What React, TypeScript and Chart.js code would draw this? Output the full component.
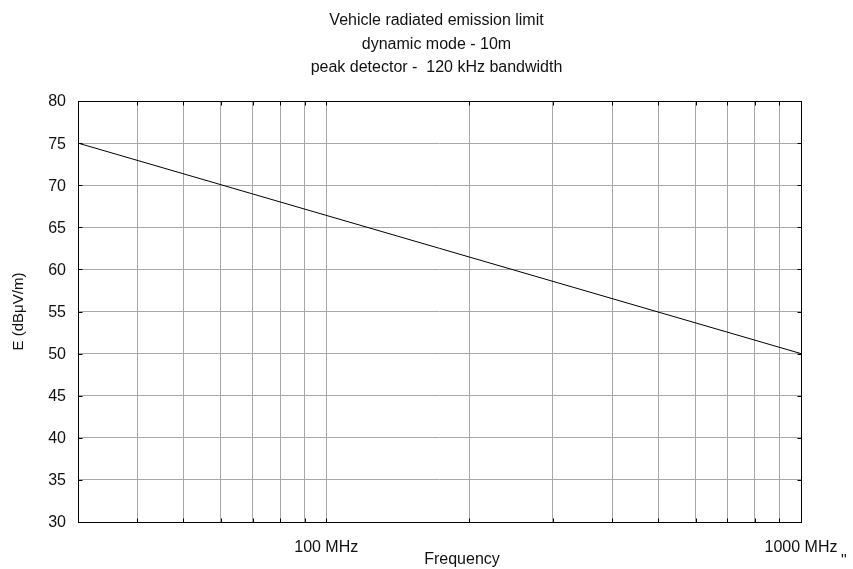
import React, { useEffect, useRef } from 'react';
import { Chart, registerables } from 'chart.js';

Chart.register(...registerables);

// ---- data ----
const frequencies = [30, 1000]; // MHz
const limits = [75, 50]; // dBµV/m
const gridFrequencies = [30, 40, 50, 60, 70, 80, 90, 100, 200, 300, 400, 500, 600, 700, 800, 900, 1000];
const labeledFrequencies = [100, 1000];
const xTickLabels = ['100 MHz', '1000 MHz'];
const yTicks = [30, 35, 40, 45, 50, 55, 60, 65, 70, 75, 80];
const titleLines = [
  'Vehicle radiated emission limit',
  'dynamic mode - 10m',
  'peak detector -  120 kHz bandwidth',
];
const xTitle = 'Frequency';
const yTitle = 'E (dBμV/m)';

const FONT = '"Liberation Sans", Arial, sans-serif';

const textPlugin = {
  id: 'customText',
  afterDraw(chart: any) {
    const ctx = chart.ctx as CanvasRenderingContext2D;
    const area = chart.chartArea;
    const xs = chart.scales.x;
    const ys = chart.scales.y;
    ctx.save();

    // frame
    ctx.strokeStyle = '#000';
    ctx.lineWidth = 1;
    const L = Math.round(area.left) + 0.5;
    const R = Math.round(area.right) + 0.5;
    const T = Math.round(area.top) + 0.5;
    const B = Math.round(area.bottom) + 0.5;
    ctx.strokeRect(L, T, R - L, B - T);

    // inside tick marks
    ctx.beginPath();
    yTicks.forEach((v) => {
      const y = Math.round(ys.getPixelForValue(v)) + 0.5;
      ctx.moveTo(L, y);
      ctx.lineTo(L + 4, y);
      ctx.moveTo(R, y);
      ctx.lineTo(R - 4, y);
    });
    gridFrequencies.forEach((f) => {
      const x = Math.round(xs.getPixelForValue(f)) + 0.5;
      ctx.moveTo(x, T);
      ctx.lineTo(x, T + 4);
      ctx.moveTo(x, B);
      ctx.lineTo(x, B - 4);
    });
    ctx.stroke();

    ctx.fillStyle = '#111';
    // title
    ctx.font = `16px ${FONT}`;
    ctx.textAlign = 'center';
    ctx.textBaseline = 'middle';
    const cx = (area.left + area.right) / 2;
    titleLines.forEach((t, i) => ctx.fillText(t, cx - 3, 21 + i * 23.5));

    // y tick labels
    ctx.font = `16px ${FONT}`;
    ctx.textAlign = 'right';
    ctx.textBaseline = 'middle';
    yTicks.forEach((v) => ctx.fillText(String(v), area.left - 12, ys.getPixelForValue(v) + 1));

    // x tick labels
    ctx.textAlign = 'center';
    labeledFrequencies.forEach((f, i) => {
      ctx.fillText(xTickLabels[i], xs.getPixelForValue(f), 548);
    });
    ctx.textAlign = 'left';
    ctx.textBaseline = 'alphabetic';
    ctx.fillText('"', xs.getPixelForValue(1000) + 40, 566);

    // x title
    ctx.textAlign = 'center';
    ctx.textBaseline = 'middle';
    ctx.font = `16px ${FONT}`;
    ctx.fillText(xTitle, 462, 560);

    // y title
    ctx.font = `15px ${FONT}`;
    ctx.translate(19, (area.top + area.bottom) / 2);
    ctx.rotate(-Math.PI / 2);
    ctx.fillText(yTitle, 0, 0);

    ctx.restore();
  },
};

export default function App() {
  const ref = useRef<HTMLCanvasElement | null>(null);

  useEffect(() => {
    if (!ref.current) return;
    const chart = new Chart(ref.current, {
      type: 'line',
      data: {
        datasets: [
          {
            data: frequencies.map((f, i) => ({ x: f, y: limits[i] })),
            borderColor: '#000',
            borderWidth: 1,
            pointRadius: 0,
            fill: false,
            tension: 0,
          },
        ],
      },
      options: {
        animation: false,
        responsive: false,
        devicePixelRatio: 1,
        layout: { padding: { left: 78, top: 101, right: 52, bottom: 47 } },
        plugins: { legend: { display: false }, title: { display: false }, tooltip: { enabled: false } },
        scales: {
          x: {
            type: 'logarithmic',
            min: 30,
            max: 1000,
            afterBuildTicks: (s: any) => {
              s.ticks = gridFrequencies.map((v) => ({ value: v }));
            },
            afterFit: (s: any) => {
              s.height = 0;
            },
            ticks: { display: false },
            grid: { color: '#a8a8a8', lineWidth: 1, drawTicks: false },
            border: { display: false },
          },
          y: {
            type: 'linear',
            min: 30,
            max: 80,
            afterBuildTicks: (s: any) => {
              s.ticks = yTicks.map((v) => ({ value: v }));
            },
            afterFit: (s: any) => {
              s.width = 0;
            },
            ticks: { display: false },
            grid: { color: '#a8a8a8', lineWidth: 1, drawTicks: false },
            border: { display: false },
          },
        },
      },
      plugins: [textPlugin],
    } as any);
    return () => chart.destroy();
  }, []);

  return (
    <div style={{ position: 'fixed', left: 0, top: 0, width: 853, height: 569, background: '#fff' }}>
      <canvas ref={ref} width={853} height={569} style={{ width: 853, height: 569 }} />
    </div>
  );
}
